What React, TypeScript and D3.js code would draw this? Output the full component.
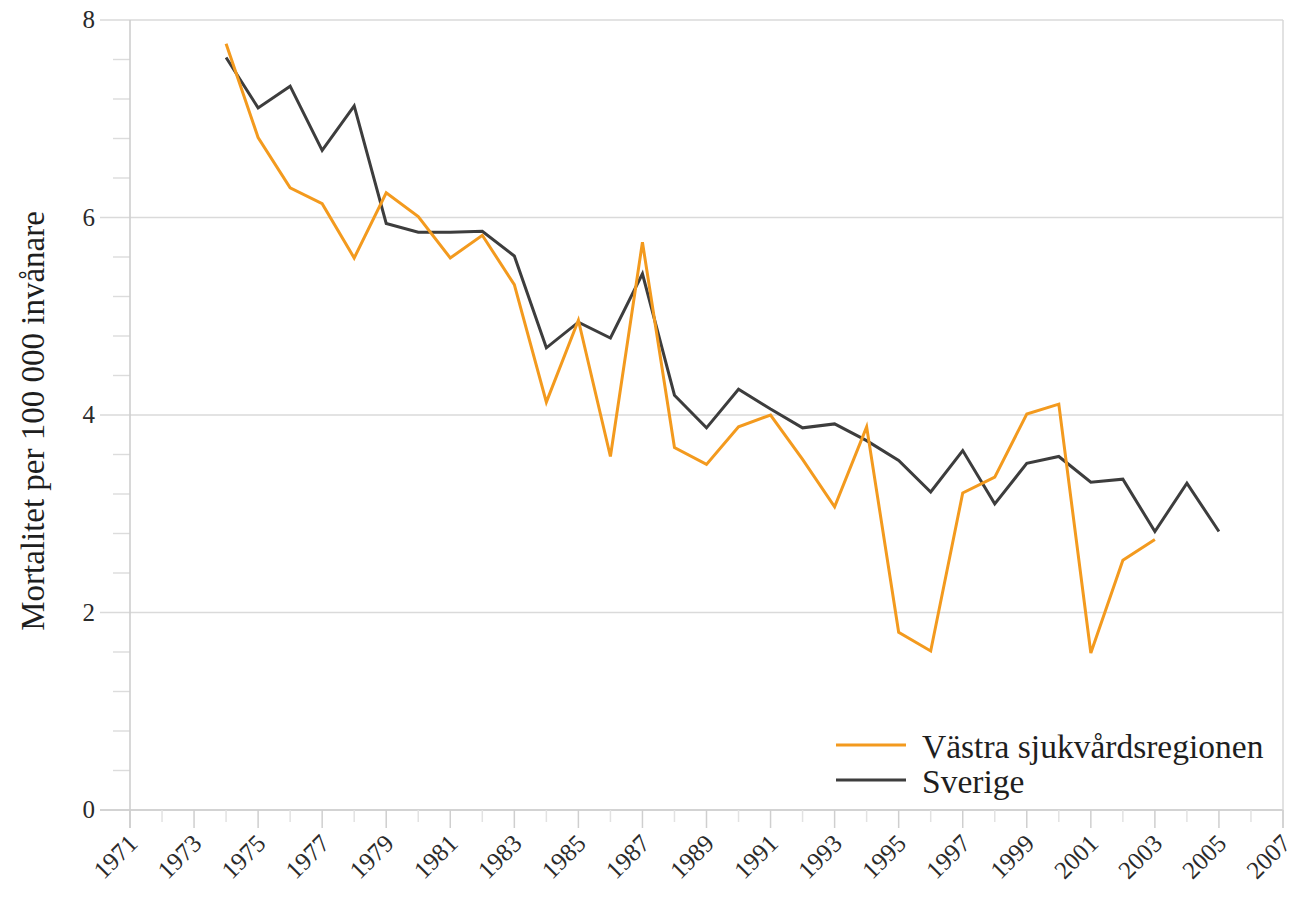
import React from "react";
import * as d3 from "d3";

// Mortality per 100 000 inhabitants, by year
const years = d3.range(1974, 2006);
const vastra: (number | null)[] = [
  7.76, 6.81, 6.3, 6.14, 5.59, 6.25, 6.01, 5.59, 5.82, 5.32,
  4.13, 4.96, 3.58, 5.75, 3.67, 3.5, 3.88, 4.0, 3.55, 3.07,
  3.88, 1.8, 1.61, 3.21, 3.37, 4.01, 4.11, 1.59, 2.53, 2.74,
  null, null,
];
const sverige: number[] = [
  7.62, 7.11, 7.33, 6.68, 7.13, 5.94, 5.85, 5.85, 5.86, 5.61,
  4.68, 4.94, 4.78, 5.43, 4.2, 3.87, 4.26, 4.06, 3.87, 3.91,
  3.74, 3.54, 3.22, 3.64, 3.1, 3.51, 3.58, 3.32, 3.35, 2.82,
  3.31, 2.82,
];

const seriesNames = ["Västra sjukvårdsregionen", "Sverige"];
const seriesColors = ["#f39a1e", "#3d3d3d"];

const yMajorTicks = [0, 2, 4, 6, 8];
const yMinorTicks = d3.range(0, 8.0001, 0.4);
const xAllTicks = d3.range(1971, 2008);
const xLabelTicks = d3.range(1971, 2008, 2);

const W = 1292;
const H = 898;
const FONT = "'Liberation Serif', 'Times New Roman', serif";

export default function App() {
  const x = d3.scaleLinear().domain([1971, 2007]).range([130, 1283]);
  const y = d3.scaleLinear().domain([0, 8]).range([810, 20]);

  const line = d3
    .line<[number, number | null]>()
    .defined((d) => d[1] !== null)
    .x((d) => x(d[0]))
    .y((d) => y(d[1] as number));

  const vPts = years.map((yr, i) => [yr, vastra[i]] as [number, number | null]);
  const sPts = years.map((yr, i) => [yr, sverige[i]] as [number, number | null]);

  const legendItems = seriesNames.map((name, i) => ({ name, color: seriesColors[i] }));

  return (
    <svg
      width={W}
      height={H}
      style={{ position: "absolute", left: 0, top: 0, background: "#fff" }}
      fontFamily={FONT}
    >
      {/* horizontal gridlines at major y ticks */}
      {yMajorTicks.map((t) => (
        <line
          key={"g" + t}
          x1={100}
          x2={x(2007)}
          y1={y(t)}
          y2={y(t)}
          stroke={t === 0 ? "#c4c4c4" : "#dadada"}
          strokeWidth={1.6}
        />
      ))}
      {/* minor y ticks */}
      {yMinorTicks
        .filter((t) => Math.abs(t / 2 - Math.round(t / 2)) > 1e-6)
        .map((t) => (
          <line
            key={"ym" + t}
            x1={113}
            x2={x(1971)}
            y1={y(t)}
            y2={y(t)}
            stroke="#dcdcdc"
            strokeWidth={1.4}
          />
        ))}
      {/* y axis line */}
      <line x1={x(1971)} x2={x(1971)} y1={y(8)} y2={y(0) + 18} stroke="#cfcfcf" strokeWidth={1.6} />
      {/* right frame */}
      <line x1={x(2007)} x2={x(2007)} y1={y(8)} y2={y(0) + 18} stroke="#d6d6d6" strokeWidth={1.4} />
      {/* x ticks */}
      {xAllTicks.map((t) => {
        const major = (t - 1971) % 2 === 0;
        return (
          <line
            key={"xt" + t}
            x1={x(t)}
            x2={x(t)}
            y1={y(0)}
            y2={y(0) + (major ? 18 : 12)}
            stroke={major ? "#cfcfcf" : "#e2e2e2"}
            strokeWidth={1.5}
          />
        );
      })}
      {/* y tick labels */}
      {yMajorTicks.map((t) => (
        <text
          key={"yl" + t}
          x={95}
          y={y(t) + 8}
          textAnchor="end"
          fontSize={25}
          fill="#2a2a2a"
        >
          {t}
        </text>
      ))}
      {/* x tick labels */}
      {xLabelTicks.map((t) => (
        <text
          key={"xl" + t}
          transform={`translate(${x(t) + 9},${y(0) + 35}) rotate(-45)`}
          textAnchor="end"
          fontSize={25}
          fill="#2a2a2a"
        >
          {t}
        </text>
      ))}
      {/* y axis title */}
      <text
        transform={`translate(44,421) rotate(-90)`}
        textAnchor="middle"
        fontSize={33}
        fill="#1e1e1e"
      >
        Mortalitet per 100 000 invånare
      </text>

      {/* data lines */}
      <path d={line(sPts) ?? ""} fill="none" stroke={seriesColors[1]} strokeWidth={3} strokeLinejoin="miter" />
      <path d={line(vPts) ?? ""} fill="none" stroke={seriesColors[0]} strokeWidth={3} strokeLinejoin="miter" />

      {/* legend */}
      {legendItems.map((it, i) => (
        <g key={it.name} transform={`translate(836,${745 + i * 35})`}>
          <line x1={0} x2={70} y1={0} y2={0} stroke={it.color} strokeWidth={3} />
          <text x={86} y={13} fontSize={33.5} fill="#1e1e1e">
            {it.name}
          </text>
        </g>
      ))}
    </svg>
  );
}
